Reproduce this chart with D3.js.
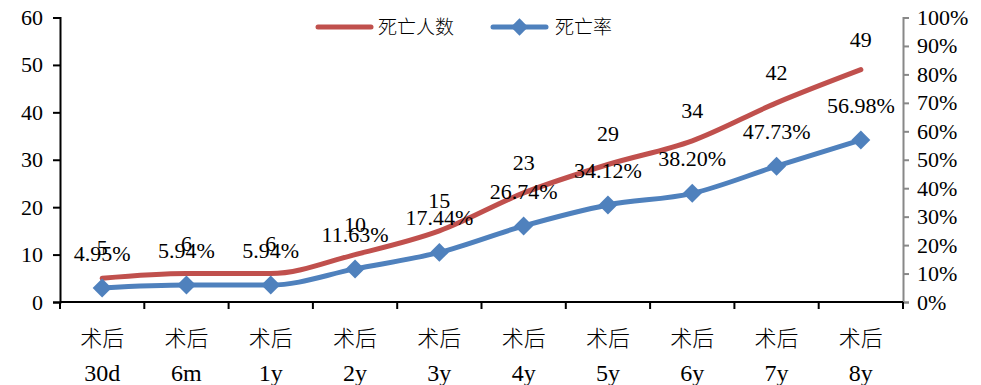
<!DOCTYPE html>
<html>
<head>
<meta charset="utf-8">
<script src="https://cdn.jsdelivr.net/npm/d3@7"></script>
<style>
  body { margin: 0; background: #fff; }
  text { font-family: "Liberation Serif", "Times New Roman", "Noto Sans CJK SC", serif; fill: #000; }
</style>
</head>
<body>
<div id="chart"></div>
<script>
var categories = ["30d", "6m", "1y", "2y", "3y", "4y", "5y", "6y", "7y", "8y"];
var deaths = [5, 6, 6, 10, 15, 23, 29, 34, 42, 49];
var rates = [4.95, 5.94, 5.94, 11.63, 17.44, 26.74, 34.12, 38.20, 47.73, 56.98];
var leftTicks = [0, 10, 20, 30, 40, 50, 60];
var rightTicks = [0, 10, 20, 30, 40, 50, 60, 70, 80, 90, 100];

function init ()
{
    var w = 981, h = 385;
    var plotL = 60, plotR = 903, plotT = 17.5, plotB = 302;
    var red = "#C0504D", blue = "#4F81BD";

    var svg = d3.select("#chart").append("svg")
        .attr("width", w)
        .attr("height", h);

    var x = d3.scaleBand().domain(categories).range([plotL, plotR]);
    var yL = d3.scaleLinear().domain([0, 60]).range([plotB, plotT]);
    var yR = d3.scaleLinear().domain([0, 100]).range([plotB, plotT]);
    var cx = function(i){ return x(categories[i]) + x.bandwidth() / 2; };

    // left axis
    var gl = svg.append("g")
        .attr("transform", "translate(" + plotL + ",0)")
        .call(d3.axisLeft(yL).tickValues(leftTicks).tickSize(7).tickPadding(10));
    gl.select(".domain").attr("stroke", "#000").attr("stroke-width", 2);
    gl.selectAll(".tick line").attr("stroke", "#000").attr("stroke-width", 2);
    gl.selectAll(".tick text").attr("font-size", 22);

    // right axis
    var gr = svg.append("g")
        .attr("transform", "translate(" + plotR + ",0)")
        .call(d3.axisRight(yR).tickValues(rightTicks).tickSize(6).tickPadding(8)
            .tickFormat(function(d){ return d + "%"; }));
    gr.select(".domain").attr("stroke", "#888").attr("stroke-width", 2);
    gr.selectAll(".tick line").attr("stroke", "#888").attr("stroke-width", 2);
    gr.selectAll(".tick text").attr("font-size", 22);

    // bottom axis
    svg.append("line")
        .attr("x1", plotL).attr("x2", plotR)
        .attr("y1", plotB).attr("y2", plotB)
        .attr("stroke", "#000").attr("stroke-width", 2);
    svg.selectAll("line.xtick")
        .data(d3.range(categories.length + 1))
        .enter().append("line")
        .attr("class", "xtick")
        .attr("x1", function(i){ return plotL + i * x.bandwidth(); })
        .attr("x2", function(i){ return plotL + i * x.bandwidth(); })
        .attr("y1", plotB).attr("y2", plotB + 7)
        .attr("stroke", "#000").attr("stroke-width", 2);

    var cat = svg.selectAll("g.cat")
        .data(categories)
        .enter().append("g")
        .attr("class", "cat");
    cat.append("text")
        .attr("x", function(d, i){ return cx(i); })
        .attr("y", 346)
        .attr("text-anchor", "middle")
        .attr("font-size", 22)
        .style("font-family", "'Noto Sans CJK SC', serif")
        .style("font-weight", 300)
        .text("术后");
    cat.append("text")
        .attr("x", function(d, i){ return cx(i); })
        .attr("y", 381)
        .attr("text-anchor", "middle")
        .attr("font-size", 24)
        .text(function(d){ return d; });

    // lines (smoothed)
    var curve = d3.curveMonotoneX;
    var lineRed = d3.line()
        .x(function(d, i){ return cx(i); })
        .y(function(d){ return yL(d); })
        .curve(curve);
    var lineBlue = d3.line()
        .x(function(d, i){ return cx(i); })
        .y(function(d){ return yR(d); })
        .curve(curve);

    svg.append("path")
        .attr("d", lineRed(deaths))
        .attr("fill", "none")
        .attr("stroke", red)
        .attr("stroke-width", 5)
        .attr("stroke-linecap", "round");

    svg.append("path")
        .attr("d", lineBlue(rates))
        .attr("fill", "none")
        .attr("stroke", blue)
        .attr("stroke-width", 5)
        .attr("stroke-linecap", "round");

    // square diamonds: a square turned 45 degrees
    var diamond = d3.symbol().type(d3.symbolSquare).size(180);
    svg.selectAll("path.pt")
        .data(rates)
        .enter().append("path")
        .attr("class", "pt")
        .attr("d", diamond)
        .attr("transform", function(d, i){ return "translate(" + cx(i) + "," + yR(d) + ") rotate(45)"; })
        .attr("fill", blue);

    // data labels
    svg.selectAll("text.lr")
        .data(deaths)
        .enter().append("text")
        .attr("class", "lr")
        .attr("x", function(d, i){ return cx(i); })
        .attr("y", function(d){ return yL(d) - 23; })
        .attr("text-anchor", "middle")
        .attr("font-size", 22)
        .text(function(d){ return d; });

    svg.selectAll("text.lb")
        .data(rates)
        .enter().append("text")
        .attr("class", "lb")
        .attr("x", function(d, i){ return cx(i); })
        .attr("y", function(d){ return yR(d) - 27; })
        .attr("text-anchor", "middle")
        .attr("font-size", 22)
        .text(function(d){ return d.toFixed(2) + "%"; });

    // legend
    var lg = svg.append("g");
    lg.append("line")
        .attr("x1", 318).attr("x2", 371).attr("y1", 27).attr("y2", 27)
        .attr("stroke", red).attr("stroke-width", 5).attr("stroke-linecap", "round");
    lg.append("text")
        .attr("x", 378).attr("y", 34)
        .attr("font-size", 19)
        .style("font-family", "'Noto Sans CJK SC', serif")
        .style("font-weight", 300)
        .text("死亡人数");
    lg.append("line")
        .attr("x1", 493).attr("x2", 546).attr("y1", 27).attr("y2", 27)
        .attr("stroke", blue).attr("stroke-width", 5).attr("stroke-linecap", "round");
    lg.append("path")
        .attr("d", d3.symbol().type(d3.symbolSquare).size(150))
        .attr("transform", "translate(519.5,27) rotate(45)")
        .attr("fill", blue);
    lg.append("text")
        .attr("x", 555).attr("y", 34)
        .attr("font-size", 19)
        .style("font-family", "'Noto Sans CJK SC', serif")
        .style("font-weight", 300)
        .text("死亡率");
}

window.onload = init;
</script>
</body>
</html>
